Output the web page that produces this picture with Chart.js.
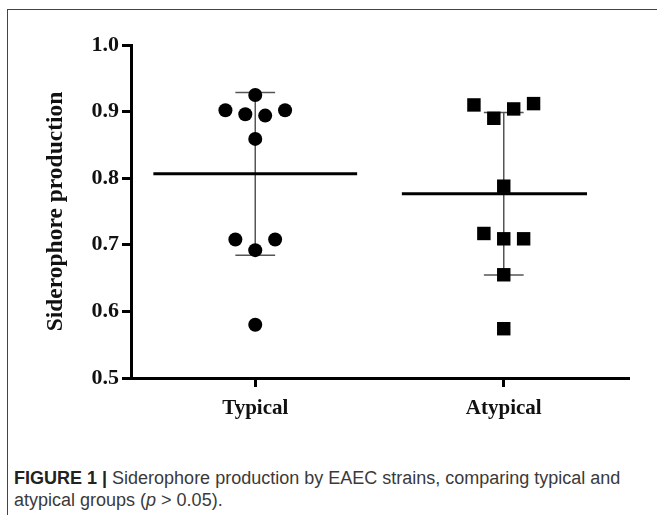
<!DOCTYPE html>
<html lang="en">
<head>
<meta charset="UTF-8">
<title>Siderophore production</title>
<script src="https://cdn.jsdelivr.net/npm/chart.js"></script>
<style>
  body { margin: 0; background: #fff; width: 657px; height: 515px; overflow: hidden; position: relative; }
  .frame { position: absolute; left: 7px; top: 9px; width: 700px; height: 600px; border-left: 1px solid #444; border-top: 1px solid #444; }
  #chart { position: absolute; left: 0; top: 0; }
  .caption { position: absolute; left: 14px; top: 467px; font-family: "Liberation Sans", Arial, sans-serif; font-size: 18px; line-height: 22px; color: #3a3a3a; }
  .caption b { color: #222; }
</style>
</head>
<body>
<div class="frame"></div>
<canvas id="chart" width="657" height="440"></canvas>
<div class="caption"><b>FIGURE 1 |</b> Siderophore production by EAEC strains, comparing typical and<br>atypical groups (<i>p</i> &gt; 0.05).</div>

<script>
const categories = ['Typical', 'Atypical'];
const typicalValues = [0.925, 0.902, 0.896, 0.894, 0.902, 0.859, 0.708, 0.692, 0.708, 0.580];
const atypicalValues = [0.910, 0.890, 0.904, 0.912, 0.788, 0.717, 0.709, 0.709, 0.655, 0.574];
// sideways spread of the dots inside each group (category units)
const typicalJitter = [0, -0.12, -0.04, 0.04, 0.12, 0, -0.08, 0, 0.08, 0];
const atypicalJitter = [-0.12, -0.04, 0.04, 0.12, 0, -0.08, 0, 0.08, 0, 0];
const yTicks = [0.5, 0.6, 0.7, 0.8, 0.9, 1.0];

function mean(a) { return a.reduce((s, v) => s + v, 0) / a.length; }
function sd(a) {
  const m = mean(a);
  return Math.sqrt(a.reduce((s, v) => s + (v - m) * (v - m), 0) / (a.length - 1));
}

function points(values, jitter, pos) {
  return values.map((v, i) => ({ x: pos + jitter[i], y: v }));
}

// mean bar, slightly shorter on the right for the second group like the original
function meanLine(values, pos, l, r) {
  const m = mean(values);
  return [{ x: pos - l, y: m }, { x: pos + r, y: m }];
}

function errorBar(values, pos) {
  const m = mean(values), s = sd(values), w = 0.08;
  return [
    { x: pos - w, y: m + s }, { x: pos + w, y: m + s }, { x: pos, y: null },
    { x: pos, y: m + s }, { x: pos, y: m - s }, { x: pos, y: null },
    { x: pos - w, y: m - s }, { x: pos + w, y: m - s }
  ];
}

Chart.defaults.font.family = '"Liberation Serif", "Times New Roman", serif';
Chart.defaults.color = '#111';

const lineStyle = { type: 'line', showLine: true, pointRadius: 0, spanGaps: false, order: 2 };

new Chart(document.getElementById('chart'), {
  type: 'scatter',
  data: {
    datasets: [
      { label: categories[0], data: points(typicalValues, typicalJitter, 1), pointStyle: 'circle', pointRadius: 7, backgroundColor: '#000', borderColor: '#000', borderWidth: 0, order: 0 },
      { label: categories[1], data: points(atypicalValues, atypicalJitter, 2), pointStyle: 'rect', pointRadius: 9.5, backgroundColor: '#000', borderColor: '#000', borderWidth: 0, order: 0 },
      { ...lineStyle, data: errorBar(typicalValues, 1), borderColor: '#555', borderWidth: 1.5 },
      { ...lineStyle, data: errorBar(atypicalValues, 2), borderColor: '#555', borderWidth: 1.5 },
      { ...lineStyle, data: meanLine(typicalValues, 1, 0.41, 0.41), borderColor: '#000', borderWidth: 3, order: 1 },
      { ...lineStyle, data: meanLine(atypicalValues, 2, 0.41, 0.335), borderColor: '#000', borderWidth: 3, order: 1 }
    ]
  },
  options: {
    responsive: false,
    animation: false,
    devicePixelRatio: 1,
    layout: { padding: { left: 0, top: 45, right: 29, bottom: 0 } },
    plugins: { legend: { display: false }, tooltip: { enabled: false } },
    scales: {
      x: {
        type: 'linear',
        min: 0.5,
        max: 2.5,
        afterBuildTicks: s => { s.ticks = categories.map((c, i) => ({ value: i + 1 })); },
        afterFit: s => { s.height = 62; },
        ticks: {
          callback: v => categories[v - 1],
          font: { size: 21, weight: 'bold' },
          color: '#111',
          padding: 9
        },
        grid: { drawOnChartArea: false, drawTicks: true, tickLength: 9, lineWidth: 3, color: '#000' },
        border: { display: true, color: '#000', width: 3 }
      },
      y: {
        min: 0.5,
        max: 1.0,
        afterBuildTicks: s => { s.ticks = yTicks.map(v => ({ value: v })); },
        afterFit: s => { s.width = 131; },
        ticks: {
          callback: v => v.toFixed(1),
          font: { size: 22, weight: 'bold' },
          color: '#111',
          padding: 3
        },
        grid: { drawOnChartArea: false, drawTicks: true, tickLength: 9, lineWidth: 3, color: '#000' },
        border: { display: true, color: '#000', width: 3 },
        title: {
          display: true,
          text: 'Siderophore production',
          font: { size: 23.5, weight: 'bold' },
          color: '#111',
          padding: { top: 42, bottom: 0 }
        }
      }
    }
  }
});
</script>
</body>
</html>
